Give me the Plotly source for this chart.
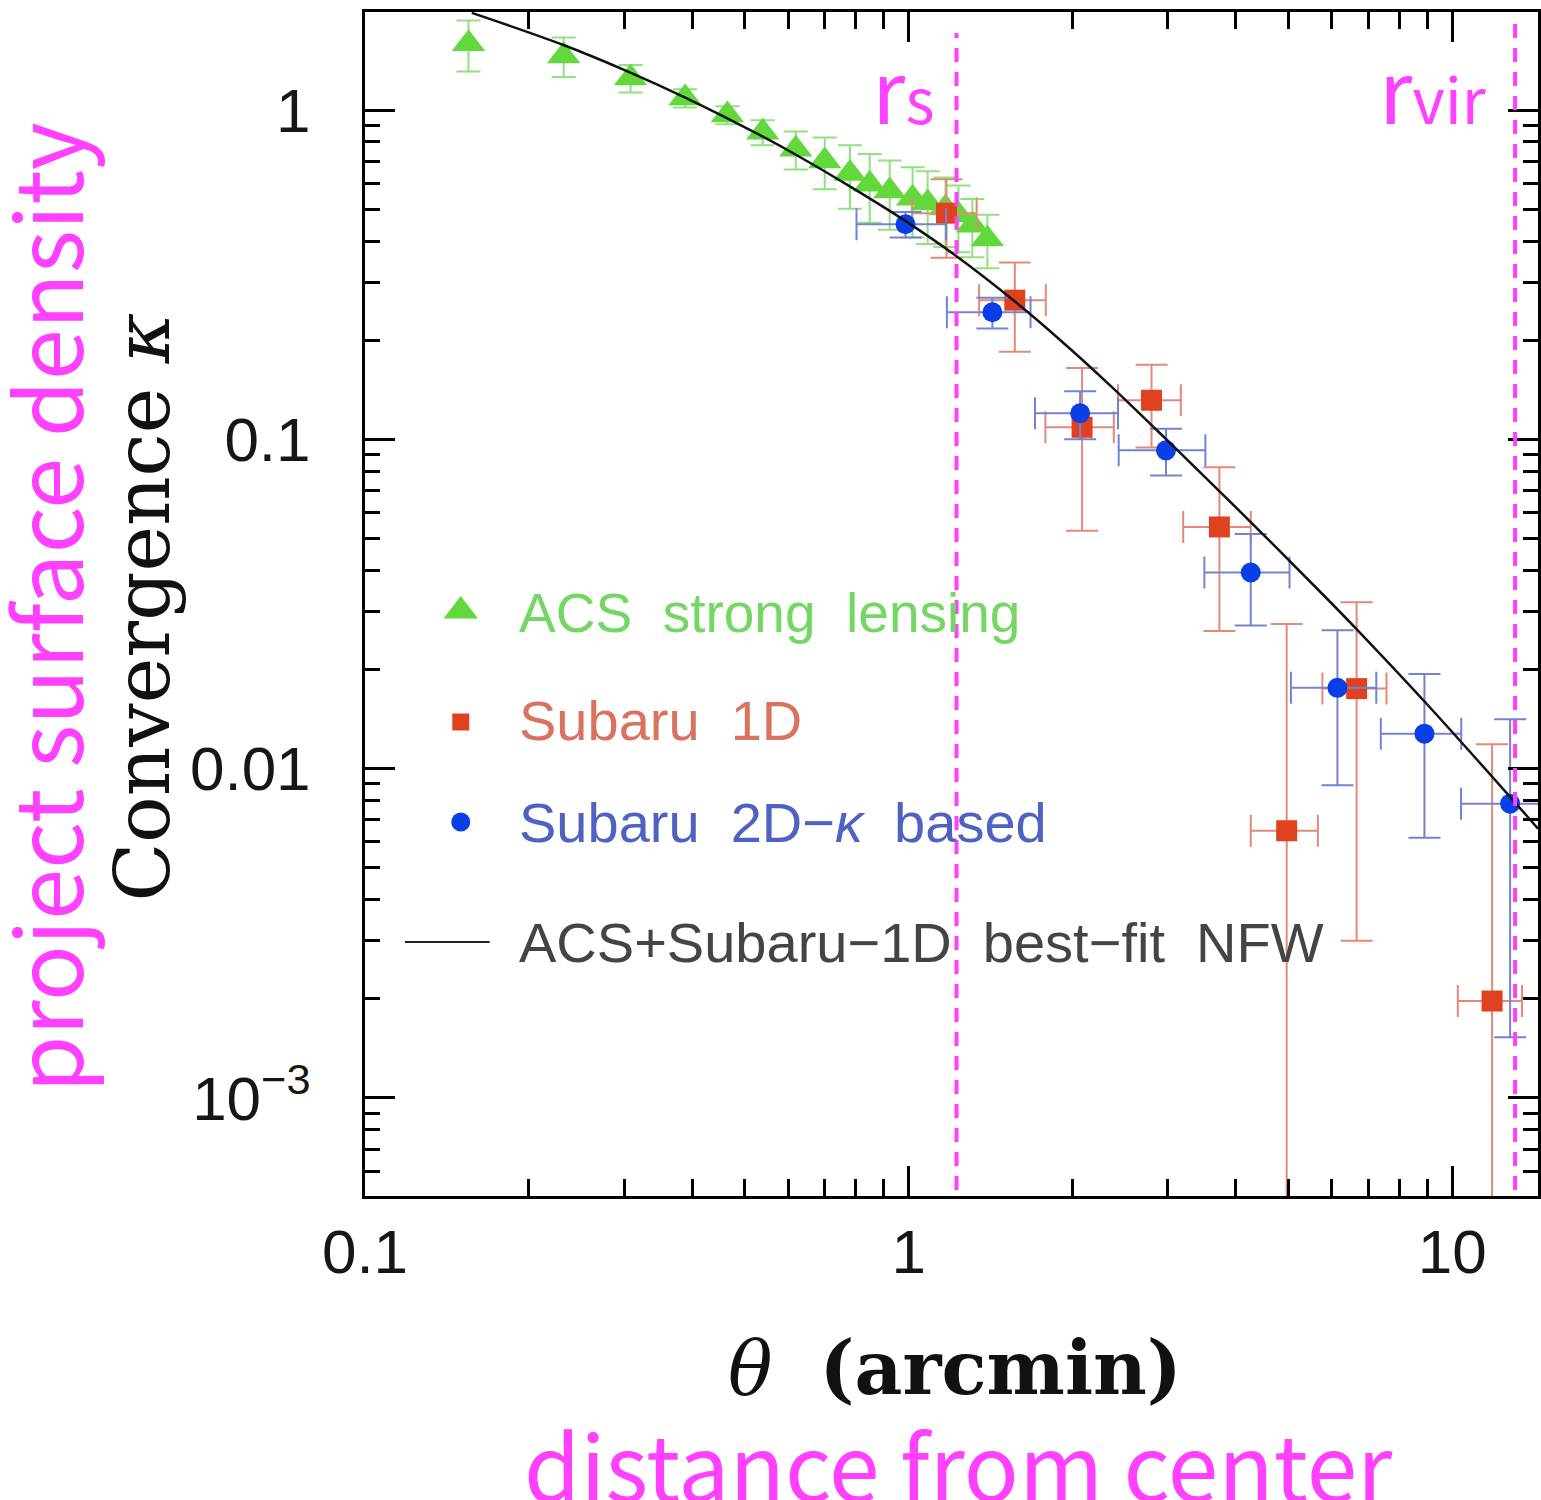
import plotly.graph_objects as go

# ---- ACS strong lensing (triangles, vertical errors) ----
theta_acs = [0.155, 0.232, 0.308, 0.388, 0.464, 0.539, 0.620, 0.701, 0.780,
             0.848, 0.923, 1.017, 1.084, 1.169, 1.235, 1.310, 1.396]
kappa_acs = [1.589, 1.459, 1.251, 1.087, 0.966, 0.856, 0.760, 0.700, 0.641,
             0.595, 0.568, 0.540, 0.522, 0.504, 0.480, 0.447, 0.406]
kappa_acs_err = [0.28, 0.20, 0.12, 0.07, 0.06, 0.075, 0.10, 0.125, 0.14,
                 0.14, 0.135, 0.13, 0.13, 0.12, 0.11, 0.09, 0.075]

# ---- Subaru 1D (squares) ----
theta_1d = [1.174, 1.568, 2.085, 2.798, 3.73, 4.96, 6.67, 11.84]
theta_1d_err = [0.16, 0.22, 0.30, 0.37, 0.53, 0.70, 0.90, 1.60]
kappa_1d = [0.486, 0.2646, 0.1088, 0.1314, 0.0542, 0.00648, 0.0175, 0.00197]
kappa_1d_err = [0.13, 0.08, 0.056, 0.037, 0.028, 0.021, 0.0145, 0.0099]

# ---- Subaru 2D-kappa based (circles) ----
theta_2d = [0.987, 1.426, 2.068, 2.975, 4.26, 6.15, 8.89, 12.78]
theta_2d_err = [0.185, 0.25, 0.36, 0.54, 0.76, 1.1, 1.5, 2.4]
kappa_2d = [0.450, 0.2432, 0.120, 0.0926, 0.0394, 0.0176, 0.01277, 0.00783]
kappa_2d_err = [0.04, 0.026, 0.020, 0.015, 0.0122, 0.0087, 0.0066, 0.0063]

# ---- ACS+Subaru-1D best-fit NFW ----
theta_nfw = [0.1572, 0.2318, 0.3077, 0.3882, 0.5352, 0.6204, 0.7825, 0.9874,
             1.225, 1.565, 1.884, 2.358, 2.792, 3.129, 4.314, 5.873, 6.694,
             8.884, 12.99, 14.38]
kappa_nfw = [1.972, 1.575, 1.299, 1.091, 0.8356, 0.7314, 0.584, 0.4597,
             0.3598, 0.2630, 0.2028, 0.1449, 0.1109, 0.09243, 0.05493,
             0.03292, 0.02635, 0.01602, 0.00796, 0.00657]

# characteristic radii (arcmin)
r_s = 1.225
r_vir = 13.05

x_tickvals = [0.1, 1, 10]
x_ticktext = ["0.1", "1", "10"]
y_tickvals = [1e-3, 0.01, 0.1, 1]
y_ticktext = ["10<sup>\u22123</sup>", "0.01", "0.1", "1"]

# ---- colours ----
GREEN = "#62d83c"
GREEN_ERR = "#8fe27e"
RED = "#e0421f"
RED_ERR = "#e28a78"
BLUE = "#0b3fe6"
BLUE_ERR = "#7283d2"
MAGENTA = "#ff40ff"

# ---- page geometry ----
W, H = 1541, 1500
ML, MR, MT, MB = 365, 0, 12, 304
PW = W - ML - MR
PH = H - MT - MB


def fx(px):
    return (px - ML) / PW


def fy(py):
    return (MT + PH - py) / PH


fig = go.Figure()

fig.add_trace(go.Scatter(
    x=theta_acs, y=kappa_acs, mode="markers", name="ACS strong lensing",
    marker=dict(symbol="triangle-up", size=29, color=GREEN, line=dict(width=0)),
    error_y=dict(type="data", array=kappa_acs_err, color=GREEN_ERR,
                 thickness=2, width=12),
    showlegend=False,
))

fig.add_trace(go.Scatter(
    x=theta_1d, y=kappa_1d, mode="markers", name="Subaru 1D",
    marker=dict(symbol="square", size=21, color=RED, line=dict(width=0)),
    error_y=dict(type="data", array=kappa_1d_err, color=RED_ERR,
                 thickness=2, width=16),
    error_x=dict(type="data", array=theta_1d_err, color=RED_ERR,
                 thickness=2, width=16),
    showlegend=False,
))

fig.add_trace(go.Scatter(
    x=theta_2d, y=kappa_2d, mode="markers", name="Subaru 2D-\u03ba based",
    marker=dict(symbol="circle", size=20, color=BLUE, line=dict(width=0)),
    error_y=dict(type="data", array=kappa_2d_err, color=BLUE_ERR,
                 thickness=2, width=16),
    error_x=dict(type="data", array=theta_2d_err, color=BLUE_ERR,
                 thickness=2, width=16),
    showlegend=False,
))

fig.add_trace(go.Scatter(
    x=theta_nfw, y=kappa_nfw, mode="lines",
    name="ACS+Subaru-1D best-fit NFW",
    line=dict(color="#111111", width=2.5, shape="spline", smoothing=1.0),
    showlegend=False,
))

# ---- hand-placed key (overlay axis in plot-fraction units) ----
key_x = fx(461)
fig.add_trace(go.Scatter(
    x=[key_x], y=[fy(611)], xaxis="x2", yaxis="y2", mode="markers",
    marker=dict(symbol="triangle-up", size=30, color=GREEN, line=dict(width=0)),
    showlegend=False, hoverinfo="skip"))
fig.add_trace(go.Scatter(
    x=[key_x], y=[fy(722)], xaxis="x2", yaxis="y2", mode="markers",
    marker=dict(symbol="square", size=17, color=RED, line=dict(width=0)),
    showlegend=False, hoverinfo="skip"))
fig.add_trace(go.Scatter(
    x=[key_x], y=[fy(822)], xaxis="x2", yaxis="y2", mode="markers",
    marker=dict(symbol="circle", size=19, color=BLUE, line=dict(width=0)),
    showlegend=False, hoverinfo="skip"))
fig.add_trace(go.Scatter(
    x=[fx(405), fx(490)], y=[fy(942), fy(942)], xaxis="x2", yaxis="y2",
    mode="lines", line=dict(color="#222222", width=2),
    showlegend=False, hoverinfo="skip"))

LEG_FONT = "Liberation Sans, Arial, sans-serif"
legend_rows = [
    ("ACS  strong  lensing", "#74d763", 613, 55),
    ("Subaru  1D", "#d9735f", 720, 56),
    ("Subaru  2D\u2212<i>\u03ba</i>  based", "#4f62c2", 822, 56),
    ("ACS+Subaru\u22121D  best\u2212fit  NFW", "#444444", 942, 56),
]
annotations = []
for text, col, ypix, fsize in legend_rows:
    annotations.append(dict(
        xref="paper", yref="paper", x=fx(517), y=fy(ypix), text=text,
        showarrow=False, xanchor="left", yanchor="middle",
        font=dict(family=LEG_FONT, size=fsize, color=col)))

# axis titles
annotations.append(dict(
    xref="paper", yref="paper", x=fx(141), y=fy(607),
    text="Convergence <i>\u03ba</i>", textangle=-90, showarrow=False,
    xanchor="center", yanchor="middle",
    font=dict(family="DejaVu Serif, serif", size=77, color="#111111")))
annotations.append(dict(
    xref="paper", yref="paper", x=fx(957), y=fy(1368),
    text="<i>\u03b8</i>  <b>(arcmin)</b>", showarrow=False,
    xanchor="center", yanchor="middle",
    font=dict(family="DejaVu Serif, serif", size=74, color="#111111")))

# magenta notes
NOTE_FONT = "Noto Sans CJK JP, Noto Sans, sans-serif"
annotations.append(dict(
    xref="paper", yref="paper", x=fx(41), y=fy(607),
    text="project surface density", textangle=-90, showarrow=False,
    xanchor="center", yanchor="middle",
    font=dict(family=NOTE_FONT, size=92, color=MAGENTA)))
annotations.append(dict(
    xref="paper", yref="paper", x=fx(960), y=fy(1462),
    text="distance from center", showarrow=False,
    xanchor="center", yanchor="middle",
    font=dict(family=NOTE_FONT, size=91, color=MAGENTA)))
annotations.append(dict(
    xref="paper", yref="paper", x=fx(904), y=fy(86),
    text="r<span style='font-size:62px'>s</span>", showarrow=False,
    xanchor="center", yanchor="middle",
    font=dict(family=NOTE_FONT, size=86, color=MAGENTA)))
annotations.append(dict(
    xref="paper", yref="paper", x=fx(1436), y=fy(86),
    text="r<span style='font-size:62px'>vir</span>", showarrow=False,
    xanchor="center", yanchor="middle",
    font=dict(family=NOTE_FONT, size=86, color=MAGENTA)))

shapes = [
    dict(type="line", xref="x", yref="paper", x0=r_s, x1=r_s,
         y0=fy(1190), y1=fy(33),
         line=dict(color=MAGENTA, width=4, dash="14px,10px")),
    dict(type="line", xref="x", yref="paper", x0=r_vir, x1=r_vir,
         y0=fy(1190), y1=fy(22),
         line=dict(color=MAGENTA, width=4, dash="14px,10px")),
]

TICK_FONT = dict(family="Liberation Sans, Arial, sans-serif", size=62,
                 color="#161616")

fig.update_layout(
    width=W, height=H,
    margin=dict(l=ML, r=MR, t=MT, b=MB, pad=0),
    paper_bgcolor="white", plot_bgcolor="white",
    showlegend=False,
    annotations=annotations,
    shapes=shapes,
    xaxis=dict(
        type="log", range=[-1, -1 + PW / 545.0],
        showline=True, linecolor="black", linewidth=3, mirror="ticks",
        ticks="inside", ticklen=30, tickwidth=3, tickcolor="black",
        tickmode="array", tickvals=x_tickvals, ticktext=x_ticktext,
        tickfont=TICK_FONT, ticklabelstandoff=0,
        minor=dict(ticks="inside", ticklen=17, tickwidth=2.5,
                   tickcolor="black", dtick="D1", showgrid=False),
        showgrid=False, zeroline=False,
    ),
    yaxis=dict(
        type="log", range=[-3.2976, 0.2976],
        showline=True, linecolor="black", linewidth=3, mirror="ticks",
        ticks="inside", ticklen=30, tickwidth=3, tickcolor="black",
        tickmode="array", tickvals=y_tickvals, ticktext=y_ticktext,
        tickfont=TICK_FONT, ticklabelstandoff=39,
        minor=dict(ticks="inside", ticklen=15, tickwidth=2.5,
                   tickcolor="black", dtick="D1", showgrid=False),
        showgrid=False, zeroline=False,
    ),
    xaxis2=dict(overlaying="x", range=[0, 1], visible=False,
                fixedrange=True),
    yaxis2=dict(overlaying="y", range=[0, 1], visible=False,
                fixedrange=True),
)

fig.write_html("out.html")
